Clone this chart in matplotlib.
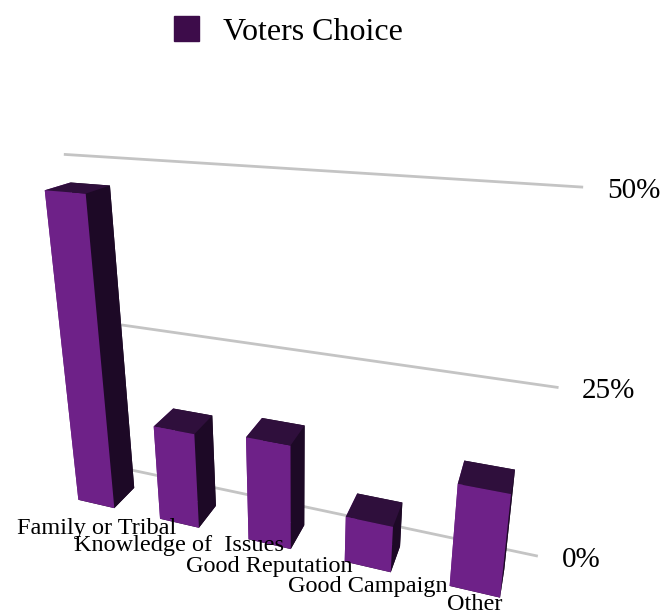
import matplotlib.pyplot as plt
import numpy as np
from matplotlib.patches import Patch
from mpl_toolkits.mplot3d import proj3d

# survey results: why voters chose their candidate
categories = ["Family or Tribal", "Knowledge of  Issues", "Good Reputation",
              "Good Campaign", "Other"]
values = [47, 15, 16, 7, 15]
ticks = [0, 25, 50]
tick_labels = ["0%", "25%", "50%"]

# gap in pixels between each bar's foot and the baseline of its label
label_pad = [30, 28, 28, 25, 18]

plt.rcParams['font.family'] = ['Liberation Serif', 'DejaVu Serif']

fig = plt.figure(figsize=(6.66, 6.16), dpi=100)
ax = fig.add_axes([-0.0867, -0.0456, 1.0359, 1.12], projection='3d')
ax.set_proj_type('persp', focal_length=0.205)
ax.view_init(elev=19, azim=-70.3)

n = len(values)
bw = 0.45   # bar width
bd = 0.37   # bar depth
xs = np.arange(n) - bw / 2

# face order in bar3d: bottom, top, front, back, left, right
front = '#6e2188'
top = '#2f0f3c'
side = '#1d0926'
face_colors = []
for v in values:
    face_colors += [side, top, front, side, front, side]

ax.bar3d(xs, np.zeros(n), np.zeros(n), bw, bd, values, color=face_colors,
         shade=False, edgecolor='none')

# gridlines on the back wall
wall_y = 0.65
x0, x1 = -0.48, 4.5
for t in ticks:
    ax.plot([x0, x1], [wall_y, wall_y], [t, t], color='#c4c4c4', lw=2,
            zorder=0)

ax.set_xlim(-0.5, 3.96)
ax.set_ylim(0, 2.85)
ax.set_zlim(0, 59)
ax.set_box_aspect((4.46, 3.1, 4.26), zoom=0.89)
ax.set_axis_off()


def to_fig(x, y, z, dx=0, dy=0):
    # project a 3d point to figure coordinates, with a pixel offset
    px, py, _ = proj3d.proj_transform(x, y, z, ax.get_proj())
    disp = ax.transData.transform((px, py)) + (dx, dy)
    return fig.transFigure.inverted().transform(disp)


fig.canvas.draw()
for t, lab in zip(ticks, tick_labels):
    fx, fy = to_fig(x1, wall_y, t, dx=25, dy=-4)
    fig.text(fx, fy, lab, fontsize=21, ha='left', va='center')

for i, lab in enumerate(categories):
    fx, fy = to_fig(i, 0, 0, dy=-label_pad[i])
    fig.text(fx, fy, lab, fontsize=17.5, ha='center', va='baseline')

fig.legend(handles=[Patch(color='#3d0c4a')], labels=['Voters Choice'],
           loc='upper center', bbox_to_anchor=(0.433, 1.02), frameon=False,
           fontsize=23, handlelength=0.8, handleheight=0.8,
           handletextpad=0.75)

fig.savefig('out.png', dpi=100)
